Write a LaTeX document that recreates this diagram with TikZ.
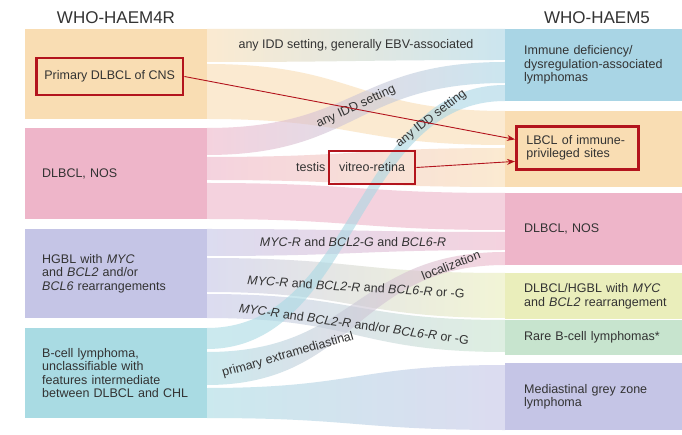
\documentclass[tikz,border=0pt]{standalone}
\usepackage{fontspec}
\setmainfont{Liberation Sans}
\usepackage{xcolor}
\usepackage{tikz}
\usetikzlibrary{calc,positioning,arrows.meta}

\definecolor{cnsc}{HTML}{F9DDB3}
\definecolor{nosc}{HTML}{EEB5C9}
\definecolor{hgc}{HTML}{C5C5E6}
\definecolor{bcuc}{HTML}{A9DBE3}
\definecolor{iddc}{HTML}{A9D5E5}
\definecolor{yelc}{HTML}{EAEEBB}
\definecolor{grnc}{HTML}{C7E4CE}
\definecolor{redc}{HTML}{B3141D}
\definecolor{txtc}{HTML}{333333}

\newcommand{\boxfont}{\fontsize{12.5}{13.5}\selectfont}
\newcommand{\headfont}{\fontsize{17}{20}\selectfont}

\begin{document}
\begin{tikzpicture}[x=1pt,y=-1pt,
    head/.style={font=\headfont,text=txtc},
    lbox/.style={anchor=north west,minimum width=182pt,inner xsep=17pt,inner ysep=0pt,text width=148pt,align=left,font=\boxfont,text=txtc},
    rbox/.style={anchor=north west,inner xsep=19pt,inner ysep=0pt,text width=150pt,align=left,font=\boxfont,text=txtc},
    flow/.style={fill opacity=0.6},
    flowlabel/.style={font=\boxfont,text=txtc,inner sep=1pt},
    redbox/.style={draw=redc,line width=2.8pt,font=\boxfont,text=txtc},
    redarrow/.style={draw=redc,line width=0.9pt,-{Stealth[length=8pt,width=6pt]}}]

    \fill[white] (0,0) rectangle (682,435);
    \useasboundingbox (0,0) rectangle (682,435);

    % Headings
    \node[head] (h4r) at (116,18) {WHO-HAEM4R};
    \node[head] (h5) at (597,18) {WHO-HAEM5};

    % Flows: left top/bottom, right top/bottom, colours
    \foreach \la/\lb/\ra/\rb/\cl/\cr in {29/62/29/60/cnsc/iddc, 64/119/111/145/cnsc/cnsc,
        128/155/62/83/nosc/iddc, 157/180/148/187/nosc/cnsc, 183/219/193/230/nosc/nosc,
        229/256/232/250/hgc/nosc, 258/292/273/318/hgc/yelc, 294/318/320/352/hgc/grnc,
        352/385/252/265/bcuc/nosc, 388/418/365/430/bcuc/hgc, 328/349/85/101/bcuc/iddc}
        \shade[flow,left color=\cl,right color=\cr] (207,\la) .. controls (356,\la) and (356,\ra) .. (505,\ra)
            -- (505,\rb) .. controls (356,\rb) and (356,\lb) .. (207,\lb) -- cycle;

    % WHO-HAEM4R boxes
    \node[lbox,fill=cnsc,minimum height=90pt] (cns) at (25,29) {};
    \node[lbox,fill=nosc,minimum height=91pt] (nosl) at (25,128) {DLBCL, NOS};
    \node[lbox,fill=hgc,minimum height=89pt] (hgbl) at (25,229) {HGBL with \textit{MYC}\\and \textit{BCL2} and/or\\\textit{BCL6} rearrangements};
    \node[lbox,fill=bcuc,minimum height=90pt] (bcu) at (25,328) {B-cell lymphoma,\\unclassifiable with\\features intermediate\\between DLBCL and CHL};

    % WHO-HAEM5 boxes
    \node[rbox,fill=iddc,minimum height=72pt] (idd) at (505,29) {Immune deficiency/\\dysregulation-associated\\lymphomas};
    \node[rbox,fill=cnsc,minimum height=76pt] (lbcl) at (505,111) {};
    \node[rbox,fill=nosc,minimum height=72pt] (nosr) at (505,193) {DLBCL, NOS};
    \node[rbox,fill=yelc,minimum height=46pt] (dhgbl) at (505,273) {DLBCL/HGBL with \textit{MYC}\\and \textit{BCL2} rearrangement};
    \node[rbox,fill=grnc,minimum height=35pt] (rare) at (505,320) {Rare B-cell lymphomas*};
    \node[rbox,fill=hgc,minimum height=67pt] (mgz) at (505,363) {Mediastinal grey zone\\lymphoma};

    % Flow labels
    \path (207,45.5) .. controls (356,45.5) and (356,44.5) .. (505,44.5)
        node[flowlabel,pos=0.5] (lebv) {any IDD setting, generally EBV-associated};
    \path (207,141.5) .. controls (356,141.5) and (356,72.5) .. (505,72.5)
        node[flowlabel,sloped,pos=0.5] (lidda) {any IDD setting};
    \path (207,338.5) .. controls (356,338.5) and (356,93) .. (505,93)
        node[flowlabel,sloped,pos=0.8] (liddb) {any IDD setting};
    \node[flowlabel] (lbcg) at (353,242) {\textit{MYC-R} and \textit{BCL2-G} and \textit{BCL6-R}};
    \node[flowlabel,rotate=-3.5] (lbcr) at (356,287) {\textit{MYC-R} and \textit{BCL2-R} and \textit{BCL6-R} or -G};
    \node[flowlabel,rotate=-8] (lbcor) at (354,324) {\textit{MYC-R} and \textit{BCL2-R} and/or \textit{BCL6-R} or -G};
    \node[flowlabel,rotate=16] (lextra) at (288,355) {primary extramediastinal};
    \node[flowlabel,rotate=21] (lloc) at (451,265) {localization};

    % Highlighted entities
    \node[redbox,anchor=west,minimum height=37pt,inner xsep=8pt] (cnslab) at (35,76.5) {Primary DLBCL of CNS};
    \node[redbox,minimum height=33pt,inner xsep=10pt] (vitreo) at (372,167.5) {vitreo-retina};
    \node[flowlabel,left=1pt of vitreo] (testis) {testis};
    \node[redbox,anchor=north west,minimum height=43pt,text width=102pt,align=left,inner xsep=10pt] (lbcllab) at (515,125) {LBCL of immune-\\privileged sites};

    \draw[redarrow] (cnslab.east) -- ([yshift=8.5pt]lbcllab.west);
    \draw[redarrow] (vitreo.east) -- ([yshift=-13.5pt]lbcllab.west);
\end{tikzpicture}
\end{document}
